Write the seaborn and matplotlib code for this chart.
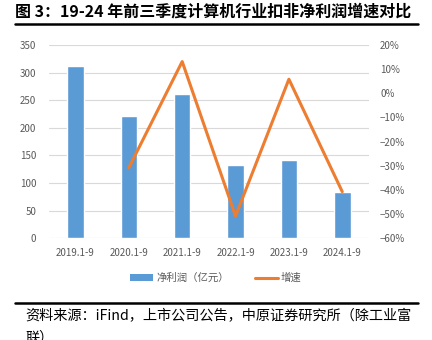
import numpy as np
import pandas as pd
import matplotlib
matplotlib.use("Agg")
import matplotlib.pyplot as plt
import seaborn as sns
from matplotlib.ticker import PercentFormatter, MultipleLocator
from matplotlib.patches import Patch
from matplotlib.lines import Line2D

years = ["2019.1-9", "2020.1-9", "2021.1-9", "2022.1-9", "2023.1-9", "2024.1-9"]
profit = [311, 222, 261, 133, 141, 84]
growth = [np.nan, -0.308, 0.131, -0.508, 0.058, -0.407]

sns.set_theme(style="white")
plt.rcParams['font.family'] = ['Noto Sans CJK SC', 'DejaVu Sans']

BLUE = "#5b9bd5"
ORANGE = "#ed7d31"
GRAY = "#595959"

df = pd.DataFrame({"year": years, "profit": profit, "growth": growth})
df["pos"] = np.arange(len(df))

fig = plt.figure(figsize=(4.32, 3.4), dpi=100)
ax = fig.add_axes([0.113, 0.299, 0.741, 0.569])

sns.barplot(data=df, x="year", y="profit", color=BLUE, width=0.31, ax=ax,
            saturation=1, zorder=2)
ax.set_xlim(-0.5, 5.5)
ax.set_ylim(0, 350)
ax.yaxis.set_major_locator(MultipleLocator(50))
ax.grid(axis="y", color="#d9d9d9", linewidth=0.8, zorder=0)
ax.set_axisbelow(True)
for s in ax.spines.values():
    s.set_visible(False)
ax.set_xlabel("")
ax.set_ylabel("")
ax.tick_params(axis="both", length=0, labelsize=7, colors=GRAY)
ax.tick_params(axis="y", pad=9)
ax.tick_params(axis="x", pad=7)

ax2 = ax.twinx()
sns.lineplot(data=df.dropna(), x="pos", y="growth", color=ORANGE, linewidth=2.2,
             ax=ax2)
ax2.set_xlim(-0.5, 5.5)
ax2.set_ylim(-0.6, 0.2)
ax2.yaxis.set_major_locator(MultipleLocator(0.1))
ax2.yaxis.set_major_formatter(PercentFormatter(1.0, decimals=0))
for s in ax2.spines.values():
    s.set_visible(False)
ax2.set_xlabel("")
ax2.set_ylabel("")
ax2.tick_params(axis="both", length=0, labelsize=7, colors=GRAY)
ax2.tick_params(axis="y", pad=8)

handles = [Patch(facecolor=BLUE, edgecolor="none"),
           Line2D([0], [0], color=ORANGE, linewidth=2.2)]
fig.legend(handles, ["净利润（亿元）", "增速"], loc="center", bbox_to_anchor=(0.5, 0.182),
           ncol=2, frameon=False, fontsize=7.5, labelcolor=GRAY, handlelength=2.2,
           handleheight=0.7, columnspacing=2.5, handletextpad=0.3)

fig.text(0.035, 0.965, "图 3：19-24 年前三季度计算机行业扣非净利润增速对比",
         fontsize=11.5, fontweight="bold", ha="left", va="center", color="black")
fig.add_artist(Line2D([15/432, 418/432], [1-24/340, 1-24/340], color="black",
                      linewidth=1.8, transform=fig.transFigure))
fig.add_artist(Line2D([15/432, 418/432], [1-303/340, 1-303/340], color="black",
                      linewidth=1.8, transform=fig.transFigure))
fig.text(0.058, 1-316/340, "资料来源：iFind，上市公司公告，中原证券研究所（除工业富",
         fontsize=10.2, ha="left", va="center", color="black")
fig.text(0.058, 1-338/340, "联）", fontsize=10.2, ha="left", va="center", color="black")

fig.savefig("out.png", dpi=100)
